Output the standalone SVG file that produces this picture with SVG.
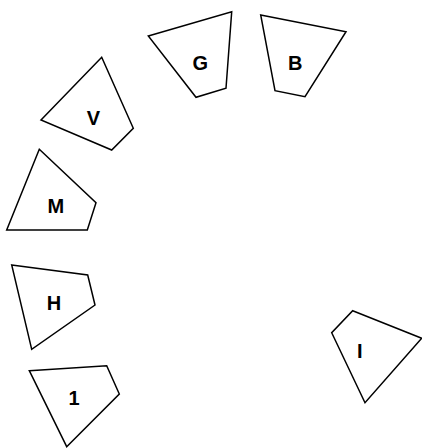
<svg xmlns="http://www.w3.org/2000/svg" width="422" height="448" viewBox="0 0 422 448">
<style>
.n polygon{fill:#fff;stroke:#000;stroke-width:1.5;stroke-linejoin:miter}
.n text{font-family:"Liberation Sans",Arial,sans-serif;font-weight:bold;font-size:20px;text-anchor:middle;fill:#000}
</style>
<rect width="422" height="448" fill="#fff"/>
<g id="connectors"></g>
<g id="G" class="n"><polygon points="148.3,36 231.7,11.7 226,88.3 196,97.3"/><text x="200.3" y="69.7">G</text></g>
<g id="B" class="n"><polygon points="260.7,15 346,31.7 305,96.7 275,90.7"/><text x="295.3" y="69.7">B</text></g>
<g id="V" class="n"><polygon points="101.7,57.3 133.3,128.3 111.7,150 41,120"/><text x="93.3" y="124.7">V</text></g>
<g id="M" class="n"><polygon points="39.3,149.3 96,202.7 87.3,230 6.7,230"/><text x="55.8" y="213.2">M</text></g>
<g id="H" class="n"><polygon points="11.7,265 87.7,275 95,305 31.7,349.3"/><text x="54" y="310.2">H</text></g>
<g id="N1" class="n"><polygon points="29.3,370.7 106.7,365.7 119.3,394 66.7,446.7"/><text x="74" y="405.2">1</text></g>
<g id="I" class="n"><polygon points="352.7,310.7 421.7,338.3 365,402.7 331.7,332.7"/><text x="359.7" y="357.7">I</text></g>
</svg>
